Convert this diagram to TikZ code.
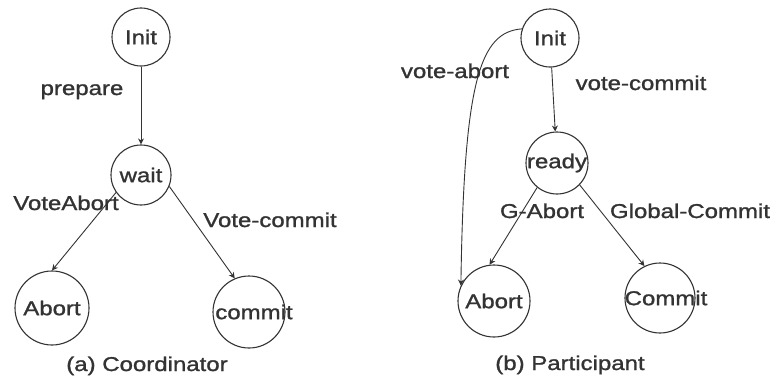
\documentclass[tikz,border=0pt]{standalone}
\usepackage{fontspec}
\newfontfamily\lblfont[FakeStretch=1.2, FakeBold=1.2]{Liberation Sans}
\usetikzlibrary{arrows.meta}
\definecolor{ink}{HTML}{333333}
\tikzset{
  every node/.style={font=\lblfont\fontsize{20}{20}\selectfont, text=ink},
  state/.style={circle, draw=ink, line width=1.1pt, inner sep=0pt, fill=white},
  edge/.style={draw=ink, line width=0.9pt, -{Stealth[length=6pt,width=6pt]}},
  lbl/.style={anchor=base, inner sep=0pt},
}
\newcommand\zw[1]{\makebox[0pt][c]{#1}}
\begin{document}
\begin{tikzpicture}[x=1pt, y=-1pt]
  \useasboundingbox (0,0) rectangle (774,380);
  \fill[white] (0,0) rectangle (774,380);

  % (a) coordinator
  \node[state, minimum size=58pt] (cInit)   at (141,37)  {\zw{Init}};
  \node[state, minimum size=60pt] (cWait)   at (141,175) {\zw{wait}};
  \node[state, minimum size=74pt] (cAbort)  at (52,308)  {\zw{Abort}};
  \node[state, minimum size=72pt] (cCommit) at (249,312) {\zw{\hspace{10pt}commit}};

  \draw[edge] (cInit) -- (cWait);
  \draw[edge] (cWait.215) -- (cAbort.north);
  \draw[edge] (cWait.338) -- (cCommit.113);

  \node[lbl] (lPrepare) at (82,95)  {prepare};
  \node[lbl] (lVAbort)  at (66,210) {VoteAbort};
  \node[lbl] (lVCommit) at (270,227) {Vote-commit};
  \node[lbl] (capA)     at (147,371) {(a) Coordinator};

  % (b) participant
  \node[state, minimum size=58pt] (pInit)   at (550,38)  {\zw{Init}};
  \node[state, minimum size=62pt] (pReady)  at (557,163) {\zw{ready}};
  \node[state, minimum size=72pt] (pAbort)  at (494,301) {\zw{Abort}};
  \node[state, minimum size=70pt] (pCommit) at (660,298) {\zw{\hspace{12pt}Commit}};

  \draw[edge] (pInit) -- (pReady);
  \draw[edge] (pInit.162) .. controls (480,32) and (464,80) .. (pAbort.155);
  \draw[edge] (pReady.231) -- (pAbort.97);
  \draw[edge] (pReady.316) -- (pCommit.116);

  \node[lbl] (lvAbort)  at (455,78)  {vote-abort};
  \node[lbl] (lvCommit) at (641,90)  {vote-commit};
  \node[lbl] (lGAbort)  at (542,218) {G-Abort};
  \node[lbl] (lGCommit) at (690,218) {Global-Commit};
  \node[lbl] (capB)     at (570,370) {(b) Participant};
\end{tikzpicture}
\end{document}
